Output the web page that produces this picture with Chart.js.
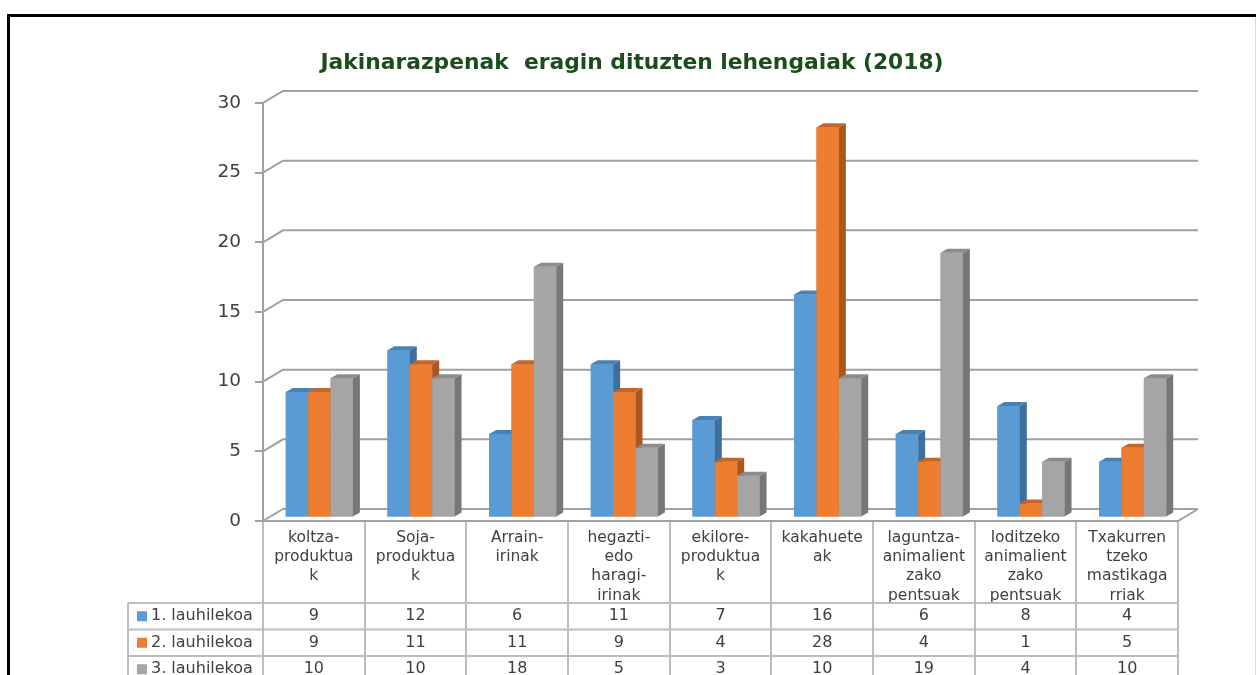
<!DOCTYPE html>
<html>
<head>
<meta charset="utf-8">
<script src="https://cdn.jsdelivr.net/npm/chart.js@4/dist/chart.umd.min.js"></script>
<style>
  html, body { margin: 0; padding: 0; background: #fff; overflow: hidden; }
</style>
</head>
<body>
<canvas id="myChart" width="1256" height="675"></canvas>
<script>
// data
var categories = [
  ['koltza-', 'produktua', 'k'],
  ['Soja-', 'produktua', 'k'],
  ['Arrain-', 'irinak'],
  ['hegazti-', 'edo', 'haragi-', 'irinak'],
  ['ekilore-', 'produktua', 'k'],
  ['kakahuete', 'ak'],
  ['laguntza-', 'animalient', 'zako', 'pentsuak'],
  ['loditzeko', 'animalient', 'zako', 'pentsuak'],
  ['Txakurren', 'tzeko', 'mastikaga', 'rriak']
];
var seriesNames = ['1. lauhilekoa', '2. lauhilekoa', '3. lauhilekoa'];
var lauhileko1 = [9, 12, 6, 11, 7, 16, 6, 8, 4];
var lauhileko2 = [9, 11, 11, 9, 4, 28, 4, 1, 5];
var lauhileko3 = [10, 10, 18, 5, 3, 10, 19, 4, 10];
var yMin = 0, yMax = 30, yStep = 5;

var colors = ['#5b9bd5', '#ed7d31', '#a5a5a5'];
var sideColors = ['#3f6f9c', '#a9561f', '#777777'];
var topColors = ['#4a80b2', '#c4652a', '#8c8c8c'];

var wall = { x: 20, y: -12 };     // back wall offset
var shift = { x: 5.5, y: -3.5 };  // bars sit a bit into the depth
var barDepth = { x: 7, y: -4 };
var gridColor = '#a0a0a0';
var tableColor = '#bdbdbd';
var textColor = '#404040';
var font = 'DejaVu Sans';

var frame3d = {
  id: 'frame3d',
  beforeDraw: function(chart) {
    var ctx = chart.ctx;
    ctx.save();
    ctx.fillStyle = '#fff';
    ctx.fillRect(0, 0, chart.width, chart.height);
    ctx.strokeStyle = '#000';
    ctx.lineWidth = 3;
    ctx.beginPath();
    ctx.moveTo(8.5, 700);
    ctx.lineTo(8.5, 15.5);
    ctx.lineTo(1260, 15.5);
    ctx.stroke();
    ctx.strokeStyle = '#d9d9d9';
    ctx.lineWidth = 1;
    ctx.beginPath();
    ctx.moveTo(1255.5, 17);
    ctx.lineTo(1255.5, 675);
    ctx.stroke();
    ctx.restore();
  },
  beforeDatasetsDraw: function(chart) {
    var ctx = chart.ctx, y = chart.scales.y, a = chart.chartArea;
    ctx.save();
    ctx.strokeStyle = gridColor;
    ctx.lineWidth = 2;
    y.ticks.forEach(function(t) {
      var py = y.getPixelForValue(t.value);
      ctx.beginPath();
      ctx.moveTo(a.left, py);
      ctx.lineTo(a.left + wall.x, py + wall.y);
      ctx.lineTo(a.right + wall.x, py + wall.y);
      ctx.stroke();
    });
    // floor
    var by = y.getPixelForValue(0);
    ctx.beginPath();
    ctx.moveTo(a.left, by);
    ctx.lineTo(a.right, by);
    ctx.lineTo(a.right + wall.x, by + wall.y);
    ctx.stroke();
    ctx.restore();
    ctx.save();
    ctx.translate(shift.x, shift.y);
  },
  afterDatasetsDraw: function(chart) {
    var ctx = chart.ctx;
    // repaint bars left to right so the 3D sides hide correctly
    for (var i = 0; i < chart.data.datasets.length; i++) {
      var meta = chart.getDatasetMeta(i);
      meta.data.forEach(function(bar) {
        var p = bar.getProps(['x', 'y', 'base', 'width'], true);
        var l = p.x - p.width / 2, r = p.x + p.width / 2;
        ctx.fillStyle = colors[i];
        ctx.fillRect(l, p.y, p.width, p.base - p.y);
        ctx.fillStyle = sideColors[i];
        ctx.beginPath();
        ctx.moveTo(r, p.y);
        ctx.lineTo(r + barDepth.x, p.y + barDepth.y);
        ctx.lineTo(r + barDepth.x, p.base + barDepth.y);
        ctx.lineTo(r, p.base);
        ctx.closePath();
        ctx.fill();
        ctx.fillStyle = topColors[i];
        ctx.beginPath();
        ctx.moveTo(l, p.y);
        ctx.lineTo(l + barDepth.x, p.y + barDepth.y);
        ctx.lineTo(r + barDepth.x, p.y + barDepth.y);
        ctx.lineTo(r, p.y);
        ctx.closePath();
        ctx.fill();
      });
    }
    ctx.restore();
    drawTable(chart);
  }
};

function drawTable(chart) {
  var ctx = chart.ctx, x = chart.scales.x, a = chart.chartArea;
  var n = categories.length;
  var colW = (a.right - a.left) / n;
  var headBottom = x.bottom;
  var rowH = 26.5;
  var legendLeft = 128;
  var rows = [lauhileko1, lauhileko2, lauhileko3];
  ctx.save();
  ctx.strokeStyle = tableColor;
  ctx.lineWidth = 2;
  for (var i = 0; i <= n; i++) {
    var ex = Math.round(x.getPixelForValue(Math.min(i, n - 1)) + (i < n ? -colW / 2 : colW / 2));
    ctx.beginPath();
    ctx.moveTo(ex, a.bottom + 1);
    ctx.lineTo(ex, chart.height + 5);
    ctx.stroke();
  }
  ctx.beginPath();
  ctx.moveTo(legendLeft, headBottom);
  ctx.lineTo(legendLeft, chart.height + 5);
  ctx.stroke();
  for (var k = 0; k < 3; k++) {
    var ly = headBottom + k * rowH;
    ctx.beginPath();
    ctx.moveTo(legendLeft, ly);
    ctx.lineTo(a.right, ly);
    ctx.stroke();
  }
  ctx.font = '16px "' + font + '"';
  ctx.textBaseline = 'middle';
  rows.forEach(function(vals, r) {
    var cy = headBottom + r * rowH + rowH / 2;
    ctx.fillStyle = colors[r];
    ctx.fillRect(legendLeft + 9, cy - 5, 10, 10);
    ctx.fillStyle = textColor;
    ctx.textAlign = 'left';
    ctx.fillText(seriesNames[r], legendLeft + 23, cy);
    ctx.textAlign = 'center';
    vals.forEach(function(v, c) {
      ctx.fillText(String(v), x.getPixelForValue(c), cy);
    });
  });
  ctx.restore();
}

var mychart = document.getElementById('myChart').getContext('2d');
var chart = new Chart(mychart, {
  type: 'bar',
  data: {
    labels: categories,
    datasets: [
      { label: seriesNames[0], data: lauhileko1, backgroundColor: colors[0] },
      { label: seriesNames[1], data: lauhileko2, backgroundColor: colors[1] },
      { label: seriesNames[2], data: lauhileko3, backgroundColor: colors[2] }
    ]
  },
  options: {
    responsive: false,
    animation: false,
    devicePixelRatio: 1,
    datasets: { bar: { categoryPercentage: 0.66, barPercentage: 1.0, clip: false } },
    layout: { padding: { left: 86, right: 78, top: 0, bottom: 72 } },
    plugins: {
      legend: { display: false },
      tooltip: { enabled: false },
      title: {
        display: true,
        text: 'Jakinarazpenak  eragin dituzten lehengaiak (2018)',
        color: '#1a4d1a',
        font: { family: font, size: 21.8, weight: 'bold', lineHeight: 1.2 },
        padding: { top: 50, bottom: 26.8 }
      }
    },
    scales: {
      x: {
        grid: { display: false, drawTicks: false },
        border: { display: false },
        ticks: {
          color: textColor,
          padding: 7,
          maxRotation: 0,
          autoSkip: false,
          font: { family: font, size: 15.5, lineHeight: 1.25 }
        },
        afterFit: function(s) { s.height = 82; }
      },
      y: {
        min: yMin,
        max: yMax,
        grid: { display: true, drawOnChartArea: false, drawTicks: true, tickLength: 8, color: gridColor, lineWidth: 2 },
        border: { display: true, color: gridColor, width: 2 },
        ticks: {
          stepSize: yStep,
          color: textColor,
          padding: 14,
          font: { family: font, size: 18.5 }
        },
        afterFit: function(s) { s.width = 177; }
      }
    }
  },
  plugins: [frame3d]
});
</script>
</body>
</html>
